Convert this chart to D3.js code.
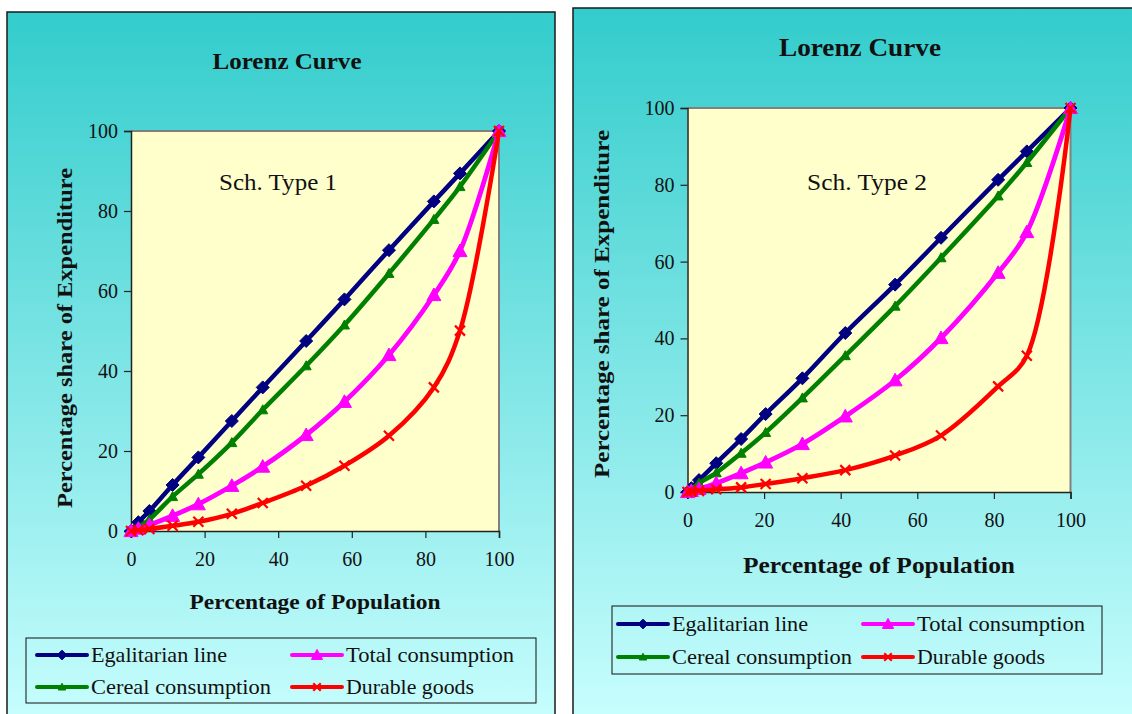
<!DOCTYPE html>
<html>
<head>
<meta charset="utf-8">
<script src="https://cdn.jsdelivr.net/npm/d3@7"></script>
<style>
  html, body { margin: 0; padding: 0; background: #ffffff; }
  svg { display: block; }
</style>
</head>
<body>
<svg id="chart" width="1132" height="714"></svg>
<script>
// ---- Data: cumulative shares (%) ----
const seriesNames = ["Egalitarian line", "Total consumption", "Cereal consumption", "Durable goods"];
const xTicks = [0, 20, 40, 60, 80, 100];
const yTicks = [0, 20, 40, 60, 80, 100];

// Schedule type 1
const popType1      = [0, 2, 5, 11.3, 18.3, 27.4, 35.8, 47.6, 58, 70.1, 82.3, 89.4, 100];
const egalType1     = [0, 2.2, 5, 11.5, 18.4, 27.5, 35.9, 47.5, 57.9, 70.2, 82.4, 89.4, 100];
const cerealType1   = [0, 1, 2.9, 8.6, 14.2, 22.1, 30.3, 41.3, 51.5, 64.4, 77.9, 86.1, 100];
const totalType1    = [0, 0.6, 1.5, 3.8, 6.7, 11.3, 16.1, 24, 32.3, 44, 59, 70, 100];
const durableType1  = [0, 0.2, 0.5, 1.3, 2.3, 4.3, 7, 11.3, 16.3, 23.8, 35.9, 50.1, 100];

// Schedule type 2
const popType2      = [0, 1, 3, 7.5, 14, 20.4, 30, 41.2, 54.2, 66.2, 81.1, 88.6, 100];
const egalType2     = [0, 1, 3.1, 7.5, 13.8, 20.3, 29.6, 41.4, 54, 66.2, 81.3, 88.7, 100];
const cerealType2   = [0, 0.7, 2.3, 5, 10.1, 15.5, 24.5, 35.5, 48.4, 61, 77.1, 85.8, 100];
const totalType2    = [0, 0.3, 0.8, 2.3, 4.9, 7.7, 12.5, 19.7, 29.1, 40.1, 57.1, 67.7, 100];
const durableType2  = [0, 0.1, 0.3, 0.7, 1.2, 2.1, 3.6, 5.7, 9.5, 14.7, 27.5, 35.5, 100];

// ---- Styles ----
const styles = {
  "Egalitarian line":   { color: "#000080", marker: "diamond", size: 13, width: 4.5 },
  "Cereal consumption": { color: "#008000", marker: "tri",     size: 10, width: 4.5 },
  "Total consumption":  { color: "#FF00FF", marker: "tri",     size: 14, width: 4.8 },
  "Durable goods":      { color: "#FF0000", marker: "cross",   size: 10, width: 4.5 }
};
const drawOrder = ["Egalitarian line", "Cereal consumption", "Total consumption", "Durable goods"];
const serif = "'Liberation Serif', 'Times New Roman', serif";

const svg = d3.select("#chart");
const defs = svg.append("defs");
const grad = defs.append("linearGradient").attr("id", "panelBg")
  .attr("x1", 0).attr("y1", 0).attr("x2", 0).attr("y2", 1);
grad.append("stop").attr("offset", "0%").attr("stop-color", "#33CCCC");
grad.append("stop").attr("offset", "100%").attr("stop-color", "#CCFFFF");

function markerPath(type, s) {
  const h = s / 2;
  if (type === "diamond") return `M0,${-h}L${h},0L0,${h}L${-h},0Z`;
  if (type === "tri") return `M0,${-h}L${h},${h * 0.8}L${-h},${h * 0.8}Z`;
  return `M${-h},${-h}L${h},${h}M${-h},${h}L${h},${-h}`;
}

function drawMarker(g, name, x, y, scale = 1) {
  const st = styles[name];
  const p = g.append("path")
    .attr("d", markerPath(st.marker, st.size * scale))
    .attr("transform", `translate(${x},${y})`);
  if (st.marker === "cross") {
    p.attr("fill", "none").attr("stroke", st.color).attr("stroke-width", 2.2);
  } else {
    p.attr("fill", st.color).attr("stroke", st.color).attr("stroke-width", 1);
  }
}

function drawPanel(cfg) {
  const g = svg.append("g");

  g.append("rect")
    .attr("x", cfg.panel[0]).attr("y", cfg.panel[1])
    .attr("width", cfg.panel[2]).attr("height", cfg.panel[3])
    .attr("fill", "url(#panelBg)").attr("stroke", "#1a1a1a").attr("stroke-width", 1.5);

  const x = d3.scaleLinear().domain([0, 100]).range([cfg.plot.x0, cfg.plot.x1]);
  const y = d3.scaleLinear().domain([0, 100]).range([cfg.plot.y0, cfg.plot.y1]);

  // plot area
  g.append("rect")
    .attr("x", x(0)).attr("y", y(100))
    .attr("width", x(100) - x(0)).attr("height", y(0) - y(100))
    .attr("fill", "#FFFFCC");
  g.append("path")
    .attr("d", `M${x(0)},${y(100)}H${x(100)}V${y(0)}`)
    .attr("fill", "none").attr("stroke", "#808080").attr("stroke-width", 2);

  // axes
  const yAxis = g.append("g").attr("transform", `translate(${x(0)},0)`)
    .call(d3.axisLeft(y).tickValues(yTicks).tickSize(7).tickPadding(6).tickFormat(d3.format("d")));
  const xAxis = g.append("g").attr("transform", `translate(0,${y(0)})`)
    .call(d3.axisBottom(x).tickValues(xTicks).tickSize(7).tickPadding(cfg.xPad).tickFormat(d3.format("d")));
  [xAxis, yAxis].forEach(a => {
    a.attr("font-family", serif).attr("font-size", cfg.tickSize);
    a.select(".domain").attr("stroke", "#222").attr("stroke-width", 1.5);
    a.selectAll(".tick line").attr("stroke", "#222").attr("stroke-width", 1.2);
    a.selectAll(".tick text").style("font-family", serif).style("font-size", cfg.tickSize + "px").attr("fill", "#111");
  });

  // series
  const line = d3.line().curve(d3.curveCatmullRom.alpha(0.5))
    .x(d => x(d[0])).y(d => y(d[1]));
  drawOrder.forEach(name => {
    const vals = cfg.series[name];
    const pts = cfg.pop.map((p, i) => [p, vals[i]]);
    const st = styles[name];
    g.append("path").datum(pts)
      .attr("d", line)
      .attr("fill", "none").attr("stroke", st.color)
      .attr("stroke-width", st.width).attr("stroke-linejoin", "round");
    const mg = g.append("g");
    pts.forEach(d => drawMarker(mg, name, x(d[0]), y(d[1])));
  });

  // texts
  g.append("text").attr("x", cfg.title[0]).attr("y", cfg.title[1])
    .attr("text-anchor", "middle").attr("font-family", serif).attr("font-weight", "bold")
    .attr("font-size", cfg.title[2]).attr("textLength", cfg.title[3]).attr("lengthAdjust", "spacingAndGlyphs")
    .attr("fill", "#111").text("Lorenz Curve");

  g.append("text").attr("x", cfg.sch[0]).attr("y", cfg.sch[1])
    .attr("font-family", serif).attr("font-size", 24)
    .attr("textLength", cfg.sch[2]).attr("lengthAdjust", "spacingAndGlyphs")
    .attr("fill", "#111").text(cfg.schText);

  g.append("text").attr("x", cfg.xTitle[0]).attr("y", cfg.xTitle[1])
    .attr("text-anchor", "middle").attr("font-family", serif).attr("font-weight", "bold")
    .attr("font-size", cfg.xTitle[2]).attr("textLength", cfg.xTitle[3]).attr("lengthAdjust", "spacingAndGlyphs")
    .attr("fill", "#111").text("Percentage of Population");

  g.append("text")
    .attr("transform", `translate(${cfg.yTitle[0]},${cfg.yTitle[1]}) rotate(-90)`)
    .attr("text-anchor", "middle").attr("font-family", serif).attr("font-weight", "bold")
    .attr("font-size", cfg.yTitle[2]).attr("textLength", cfg.yTitle[3]).attr("lengthAdjust", "spacingAndGlyphs")
    .attr("fill", "#111").text("Percentage share of Expenditure");

  // legend
  const L = cfg.legend;
  g.append("rect").attr("x", L.x).attr("y", L.y).attr("width", L.w).attr("height", L.h)
    .attr("fill", "none").attr("stroke", "#111").attr("stroke-width", 1);
  const legendOrder = [["Egalitarian line", 0, 0], ["Total consumption", 1, 0],
                       ["Cereal consumption", 0, 1], ["Durable goods", 1, 1]];
  const lenMap = {"Egalitarian line": 136, "Total consumption": 168, "Cereal consumption": 180, "Durable goods": 128};
  legendOrder.forEach(([name, col, row]) => {
    const lx = L.cols[col], ly = L.rows[row];
    const st = styles[name];
    g.append("line").attr("x1", lx).attr("x2", lx + 50).attr("y1", ly).attr("y2", ly)
      .attr("stroke", st.color).attr("stroke-width", 4).attr("stroke-linecap", "round");
    drawMarker(g, name, lx + 25, ly, name === "Total consumption" ? 0.8 : 0.75);
    g.append("text").attr("x", lx + 54).attr("y", ly + 7)
      .attr("font-family", serif).attr("font-size", 21)
      .attr("textLength", lenMap[name]).attr("lengthAdjust", "spacingAndGlyphs")
      .attr("fill", "#111").text(name);
  });
}

drawPanel({
  panel: [7, 12, 548, 730],
  plot: { x0: 131, x1: 499, y0: 531, y1: 131 },
  pop: popType1,
  series: { "Egalitarian line": egalType1, "Cereal consumption": cerealType1,
            "Total consumption": totalType1, "Durable goods": durableType1 },
  tickSize: 20, xPad: 14,
  title: [287, 69, 23, 149],
  sch: [219, 190, 118], schText: "Sch. Type 1",
  xTitle: [315, 609, 22, 251],
  yTitle: [72, 338, 22, 340],
  legend: { x: 26, y: 638, w: 510, h: 65, cols: [37, 292], rows: [655, 687] }
});

drawPanel({
  panel: [573, 8, 600, 730],
  plot: { x0: 687.5, x1: 1070.5, y0: 492, y1: 108 },
  pop: popType2,
  series: { "Egalitarian line": egalType2, "Cereal consumption": cerealType2,
            "Total consumption": totalType2, "Durable goods": durableType2 },
  tickSize: 20, xPad: 14,
  title: [860, 56, 25, 162],
  sch: [807, 190, 120], schText: "Sch. Type 2",
  xTitle: [879, 573, 24, 272],
  yTitle: [609, 304, 22, 348],
  legend: { x: 612, y: 606, w: 490, h: 68, cols: [618, 863], rows: [624, 657] }
});
</script>
</body>
</html>
